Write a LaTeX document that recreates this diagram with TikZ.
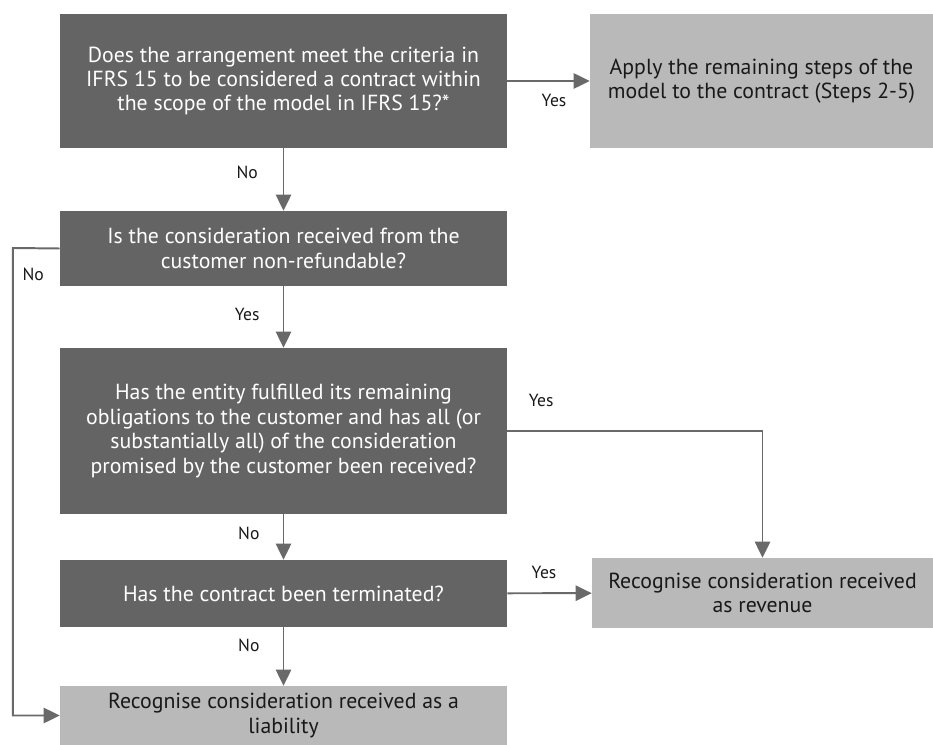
\documentclass[tikz,border=0pt]{standalone}
\usepackage{fontspec}
\setmainfont{PT Sans}
\usetikzlibrary{arrows.meta}

\definecolor{scuro}{RGB}{100,100,100}
\definecolor{chiaro}{RGB}{185,185,185}
\definecolor{linea}{RGB}{105,105,105}
\definecolor{testo}{RGB}{25,25,25}

\tikzstyle{domanda} = [rectangle, fill=scuro, text=white, align=center, inner sep=0pt, minimum width=11.175cm, font=\fontsize{15.5}{17.4}\selectfont]
\tikzstyle{esito} = [rectangle, fill=chiaro, text=testo, align=center, inner sep=0pt, font=\fontsize{15.5}{17.4}\selectfont]
\tikzstyle{freccia} = [draw=linea, line width=1.4pt, -{Triangle[length=0.4cm,width=0.38cm]}]
\tikzstyle{etichetta} = [font=\fontsize{12.5}{14}\selectfont, text=testo]

\begin{document}
\begin{tikzpicture}

    \useasboundingbox (0,0) rectangle (23.325,-18.625);

    % Domande
    \node[domanda, minimum height=3.35cm] (criteri) at (7.0875,-2.025)
        {Does the arrangement meet the criteria in\\IFRS 15 to be considered a contract within\\the scope of the model in IFRS 15?*};
    \node[domanda, minimum height=1.875cm] (rimborso) at (7.0875,-6.2125)
        {Is the consideration received from the\\customer non-refundable?};
    \node[domanda, minimum height=4.15cm] (obblighi) at (7.0875,-10.775)
        {Has the entity fulfilled its remaining\\obligations to the customer and has all (or\\substantially all) of the consideration\\promised by the customer been received?};
    \node[domanda, minimum height=1.675cm] (risolto) at (7.0875,-14.8375)
        {Has the contract been terminated?};

    % Esiti
    \node[esito, minimum width=8.575cm, minimum height=3.35cm] (passi) at (19.0375,-2.025)
        {Apply the remaining steps of the\\model to the contract (Steps 2-5)};
    \node[esito, minimum width=8.525cm, minimum height=1.75cm] (ricavo) at (19.0625,-14.825)
        {Recognise consideration received\\as revenue};
    \node[esito, minimum width=11.175cm, minimum height=1.475cm] (passivo) at (7.0875,-17.8875)
        {Recognise consideration received as a\\liability};

    % Frecce
    \coordinate (giro) at (0.32,-6.2);
    \draw[freccia] (criteri) -- (passi);
    \draw[freccia] (criteri) -- (rimborso);
    \draw[freccia] (rimborso) -- (obblighi);
    \draw[freccia] (obblighi) -- (risolto);
    \draw[freccia] (risolto) -- (passivo);
    \draw[freccia] (risolto) -- (ricavo);
    \draw[freccia] (obblighi.east) -| (ricavo.north);
    \draw[freccia] (rimborso.west) -- (giro) |- (passivo.west);

    % Etichette
    \node[etichetta] (si1) at (13.85,-2.5) {Yes};
    \node[etichetta] (no1) at (6.18,-4.3) {No};
    \node[etichetta] (no2) at (0.83,-6.85) {No};
    \node[etichetta] (si2) at (6.18,-7.85) {Yes};
    \node[etichetta] (si3) at (13.53,-10.0) {Yes};
    \node[etichetta] (no3) at (6.22,-13.33) {No};
    \node[etichetta] (si4) at (13.6,-14.3) {Yes};
    \node[etichetta] (no4) at (6.22,-16.13) {No};

\end{tikzpicture}
\end{document}
